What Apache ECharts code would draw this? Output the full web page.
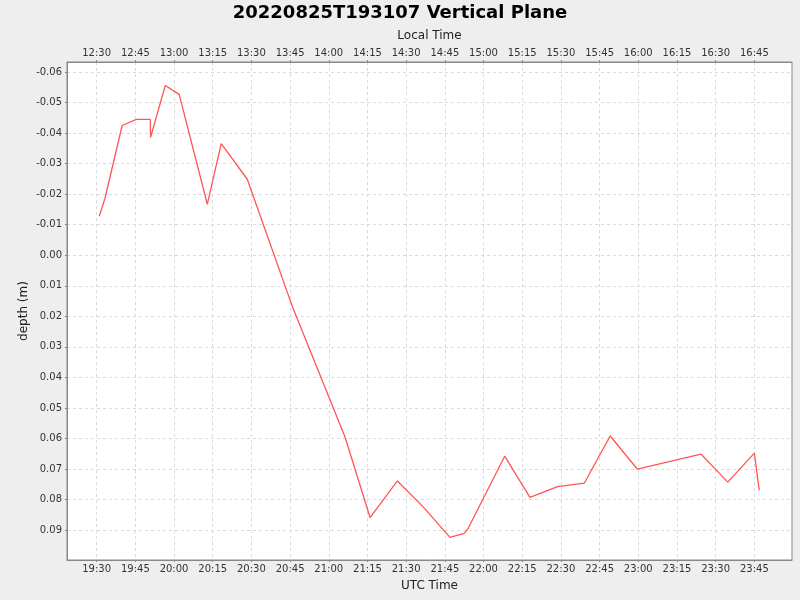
<!DOCTYPE html>
<html>
<head>
<meta charset="utf-8">
<script src="https://cdn.jsdelivr.net/npm/echarts@6/dist/echarts.min.js"></script>
<style>
  html, body { margin: 0; padding: 0; background: #eeeeee; }
  #chart { width: 800px; height: 600px; }
</style>
</head>
<body>
<div id="chart"></div>
<script>
// UTC sample times and depths
const utcTimes = [
  "19:31:00", "19:33:12", "19:39:54", "19:45:24", "19:50:48", "19:50:54",
  "19:56:36", "20:02:00", "20:12:54", "20:18:18", "20:28:24", "20:46:06",
  "21:06:18", "21:16:00", "21:26:36", "21:36:36", "21:47:00", "21:52:30",
  "21:54:00", "22:08:12", "22:18:00", "22:28:42", "22:39:06", "22:49:06",
  "22:59:36", "23:24:18", "23:34:42", "23:45:00", "23:46:54"
];
const depths = [
  -0.0128, -0.0186, -0.0425, -0.0445, -0.0445, -0.0386,
  -0.0556, -0.0527, -0.0167, -0.0366, -0.0249, 0.0173,
  0.0595, 0.0859, 0.0739, 0.0824, 0.0924, 0.0911,
  0.0895, 0.0658, 0.0793, 0.0758, 0.0746, 0.0592,
  0.0700, 0.0651, 0.0743, 0.0648, 0.0770
];

const utcTicks = ["19:30", "19:45", "20:00", "20:15", "20:30", "20:45", "21:00", "21:15",
  "21:30", "21:45", "22:00", "22:15", "22:30", "22:45", "23:00", "23:15", "23:30", "23:45"];
const localTicks = ["12:30", "12:45", "13:00", "13:15", "13:30", "13:45", "14:00", "14:15",
  "14:30", "14:45", "15:00", "15:15", "15:30", "15:45", "16:00", "16:15", "16:30", "16:45"];
const depthTicks = [-0.06, -0.05, -0.04, -0.03, -0.02, -0.01, 0, 0.01, 0.02, 0.03,
  0.04, 0.05, 0.06, 0.07, 0.08, 0.09];

// minutes since midnight
const toMin = s => {
  const p = s.split(":").map(Number);
  return p[0] * 60 + p[1] + (p[2] || 0) / 60;
};

const tickMins = utcTicks.map(toMin);
const xMin = toMin("19:18:30");
const xMax = toMin("23:59:36");

const labelFont = { fontFamily: "DejaVu Sans", fontSize: 10, color: "#333" };
const nameFont = { fontFamily: "DejaVu Sans", fontSize: 12, color: "#222" };
const gridLine = { show: true, lineStyle: { color: "#dadada", type: [3, 3], width: 1 } };

const makeX = (position, labels, name) => ({
  type: "value",
  position: position,
  min: xMin,
  max: xMax,
  name: name,
  nameLocation: "middle",
  nameGap: 20,
  nameMoveOverlap: false,
  nameTextStyle: nameFont,
  axisLine: { show: true, onZero: false, lineStyle: { color: "#888", width: 1 } },
  axisTick: { show: true, length: 2, customValues: tickMins, lineStyle: { color: "#888" } },
  axisLabel: Object.assign({
    customValues: tickMins,
    margin: 4,
    formatter: v => {
      const i = tickMins.findIndex(t => Math.abs(t - v) < 0.01);
      return i >= 0 ? labels[i] : "";
    }
  }, labelFont),
  splitLine: position === "bottom" ? gridLine : { show: false }
});

const chart = echarts.init(document.getElementById("chart"));
chart.setOption({
  backgroundColor: "#eeeeee",
  animation: false,
  title: {
    text: "20220825T193107 Vertical Plane",
    left: "center",
    top: -1,
    textStyle: { fontFamily: "DejaVu Sans", fontSize: 18, fontWeight: "bold", color: "#000" }
  },
  grid: {
    left: 67, right: 8, top: 62, bottom: 40,
    show: true, backgroundColor: "#ffffff", borderColor: "#888", borderWidth: 1
  },
  xAxis: [
    makeX("bottom", utcTicks, "UTC Time"),
    makeX("top", localTicks, "Local Time")
  ],
  yAxis: {
    type: "value",
    inverse: true,
    min: -0.0633,
    max: 0.0998,
    name: "depth (m)",
    nameLocation: "middle",
    nameGap: 37,
    nameMoveOverlap: false,
    nameTextStyle: nameFont,
    axisLine: { show: true, lineStyle: { color: "#888", width: 1 } },
    axisTick: { show: true, length: 2, customValues: depthTicks, lineStyle: { color: "#888" } },
    axisLabel: Object.assign({
      customValues: depthTicks,
      margin: 5,
      formatter: v => v.toFixed(2)
    }, labelFont),
    splitLine: gridLine
  },
  series: [{
    type: "line",
    xAxisIndex: 0,
    data: utcTimes.map((t, i) => [toMin(t), depths[i]]),
    showSymbol: false,
    symbol: "none",
    lineStyle: { color: "#ff5555", width: 1.3 }
  }]
});
</script>
</body>
</html>
